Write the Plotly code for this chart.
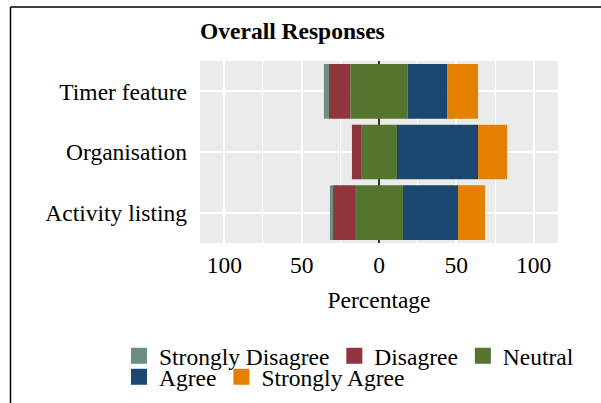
import numpy as np
import plotly.graph_objects as go

# Survey items (top to bottom) and response shares in percent
items = ["Timer feature", "Organisation", "Activity listing"]
levels = ["Strongly Disagree", "Disagree", "Neutral", "Agree", "Strongly Agree"]
strongly_disagree = [3.3, 0.0, 2.0]
disagree = [13.8, 5.9, 14.2]
neutral = [37.0, 23.2, 31.0]
agree = [25.5, 52.4, 35.6]
strongly_agree = [20.0, 18.8, 17.4]

colors = ["#6B8E7F", "#8E353E", "#55752F", "#1B4870", "#E38000"]
tick_vals = [-100, -50, 0, 50, 100]
tick_text = ["100", "50", "0", "50", "100"]

sd = np.array(strongly_disagree)
d = np.array(disagree)
n = np.array(neutral)
a = np.array(agree)
sa = np.array(strongly_agree)

# Neutral is centred on zero; disagreement extends left, agreement right
half = n / 2
bases = [-(half + d + sd), -(half + d), -half, half, half + a]
widths = [sd, d, n, a, sa]

W, H = 601, 403
ML, MR, MT, MB = 200, 43, 61, 160
PW, PH = W - ML - MR, H - MT - MB
FONT = "Liberation Serif"
FS = 23.5

# pixel -> paper coordinate helpers for layout placement
px_x = lambda px: (px - ML) / PW
px_y = lambda py: (H - MB - py) / PH

fig = go.Figure()
for name, base, w, col in zip(levels, bases, widths, colors):
    fig.add_trace(go.Bar(
        y=items, x=w, base=base, name=name, orientation="h",
        marker=dict(color=col, line=dict(width=0)), width=0.9,
        showlegend=False,
    ))

# Legend keys: square swatches split over two rows
legend_rows = ["legend", "legend", "legend", "legend2", "legend2"]
for name, col, lg in zip(levels, colors, legend_rows):
    fig.add_trace(go.Scatter(
        x=[None], y=[None], mode="markers", name=name, legend=lg,
        marker=dict(symbol="square", size=17, color=col, line=dict(width=0)),
        showlegend=True, hoverinfo="skip",
    ))

legend_style = dict(orientation="h", xanchor="left", yanchor="top",
                    bgcolor="rgba(0,0,0,0)",
                    font=dict(family=FONT, size=FS, color="black"),
                    traceorder="normal", itemclick=False, itemsizing="trace")

fig.update_layout(
    width=W, height=H,
    margin=dict(l=ML, r=MR, t=MT, b=MB, autoexpand=False),
    barmode="overlay",
    paper_bgcolor="white",
    plot_bgcolor="#EBEBEB",
    font=dict(family=FONT, size=FS, color="black"),
    title=dict(text="<b>Overall Responses</b>", x=0, xref="paper", xanchor="left",
               y=1 - 31 / H, yref="container", yanchor="middle",
               font=dict(family=FONT, size=FS, color="black")),
    showlegend=True,
    legend=dict(x=px_x(119), y=px_y(334), **legend_style),
    legend2=dict(x=px_x(119), y=px_y(355), **legend_style),
)
fig.update_xaxes(
    range=[-115.7, 115.7],
    tickvals=tick_vals, ticktext=tick_text,
    showgrid=True, gridcolor="white", gridwidth=1.8,
    minor=dict(dtick=25, tick0=0, showgrid=True, gridcolor="white", gridwidth=1.1),
    zeroline=True, zerolinecolor="#333333", zerolinewidth=2,
    ticks="", ticklabelstandoff=5,
    title=dict(text="Percentage", standoff=15, font=dict(size=FS)),
    showline=False, fixedrange=True,
)
fig.update_yaxes(
    categoryorder="array", categoryarray=items[::-1],
    showgrid=True, gridcolor="white", gridwidth=1.8,
    ticks="", ticklabelstandoff=12, showline=False, fixedrange=True,
)

# Frame lines along the top and left edges of the image
fig.add_shape(type="line", xref="paper", yref="paper",
              x0=px_x(10.5), x1=px_x(W), y0=px_y(7), y1=px_y(7),
              line=dict(color="black", width=1.5))
fig.add_shape(type="line", xref="paper", yref="paper",
              x0=px_x(10.5), x1=px_x(10.5), y0=px_y(7), y1=px_y(H),
              line=dict(color="black", width=1.5))

fig.write_html("out.html")
